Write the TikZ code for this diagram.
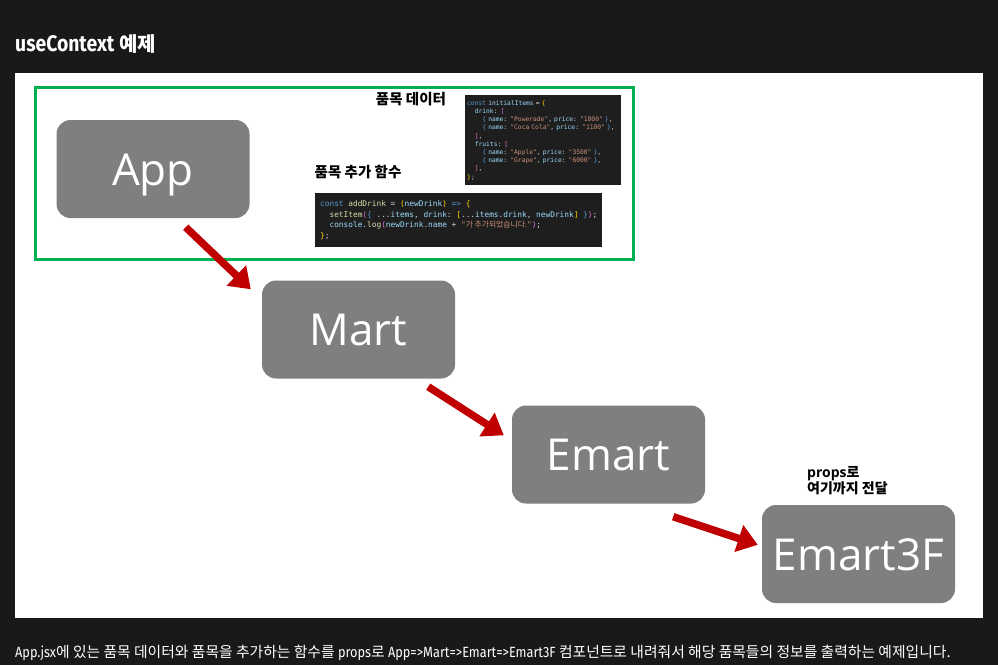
\documentclass[tikz,border=0pt]{standalone}
\usepackage{fontspec}
\usetikzlibrary{arrows.meta,positioning,calc}
\setmainfont{Open Sans}
\setmonofont{DejaVu Sans Mono}
\newfontfamily\krfont{Noto Sans CJK KR}
\newfontfamily\titlefont{Fira Sans}[FakeStretch=0.86]

\definecolor{pagebg}{HTML}{18191B}
\definecolor{boxgray}{HTML}{7F7F7F}
\definecolor{framegreen}{HTML}{00B050}
\definecolor{arrowred}{HTML}{C00000}
\definecolor{codebg}{HTML}{1E1E1E}
\definecolor{kwblue}{HTML}{569CD6}
\definecolor{varblue}{HTML}{9CDCFE}
\definecolor{strorange}{HTML}{CE9178}
\definecolor{brkyellow}{HTML}{FFD700}
\definecolor{brkpink}{HTML}{DA70D6}
\definecolor{fnyellow}{HTML}{DCDCAA}
\definecolor{codetext}{HTML}{D4D4D4}

% code colouring
\newcommand{\cKw}[1]{\textcolor{kwblue}{#1}}
\newcommand{\cVar}[1]{\textcolor{varblue}{#1}}
\newcommand{\cStr}[1]{\textcolor{strorange}{#1}}
\newcommand{\cFn}[1]{\textcolor{fnyellow}{#1}}
\newcommand{\cBr}[1]{\textcolor{brkyellow}{#1}}
\newcommand{\cBrB}[1]{\textcolor{brkpink}{#1}}
\newcommand{\cBrC}[1]{\textcolor{kwblue}{#1}}
\newcommand{\ind}{\phantom{xx}}

\tikzset{
  compbox/.style={rectangle, rounded corners=14pt, fill=boxgray, text=white,
    minimum width=193pt, minimum height=98pt, text height=32pt, text depth=0pt,
    font=\fontsize{44}{50}\selectfont},
  passarrow/.style={draw=arrowred, line width=7.5pt,
    -{Triangle[length=20pt,width=27pt]}},
  codebox/.style={rectangle, fill=codebg, text=codetext, align=left, anchor=north west},
  kolabel/.style={font=\krfont\bfseries\fontsize{14.5}{17}\selectfont, text=black}
}

\begin{document}
\begin{tikzpicture}[x=1pt, y=-1pt]

  % page and white panel
  \fill[pagebg] (0,0) rectangle (998,665);
  \useasboundingbox (0,0) rectangle (998,665);
  \fill[white] (15,73) rectangle (983,618);

  % title
  \node[anchor=base west, text=white, inner sep=0pt,
    font=\titlefont\bfseries\fontsize{22.5}{27}\selectfont] (title) at (15,51)
    {useContext {\krfont\fontsize{20}{24}\selectfont 예제}};

  % context area
  \draw[framegreen, line width=3pt] (35,87) rectangle (633,259);

  % components
  \node[compbox] (App) at (153,169) {App};
  \node[compbox] (Mart) at (358.5,329.5) {Mart};
  \node[compbox] (Emart) at (608.5,454.5) {Emart};
  \node[compbox] (Emart3F) at (858.5,554) {Emart3F};

  % code snippets
  \node[codebox, minimum width=156pt, minimum height=90pt, text width=152pt,
    inner xsep=2pt, inner ysep=2pt, font=\ttfamily\fontsize{6.3}{8.2}\selectfont]
    (dataCode) at (465,95) {%
    \cKw{const} \cVar{initialItems} = \cBr{\{}\\
    \ind\cVar{drink}: \cBrB{[}\\
    \ind\ind\cBrC{\{} \cVar{name}: \cStr{"Powerade"}, \cVar{price}: \cStr{"1800"} \cBrC{\}},\\
    \ind\ind\cBrC{\{} \cVar{name}: \cStr{"Coca Cola"}, \cVar{price}: \cStr{"1100"} \cBrC{\}},\\
    \ind\cBrB{]},\\
    \ind\cVar{fruits}: \cBrB{[}\\
    \ind\ind\cBrC{\{} \cVar{name}: \cStr{"Apple"}, \cVar{price}: \cStr{"3500"} \cBrC{\}},\\
    \ind\ind\cBrC{\{} \cVar{name}: \cStr{"Grape"}, \cVar{price}: \cStr{"6000"} \cBrC{\}},\\
    \ind\cBrB{]},\\
    \cBr{\}};};
  \node[codebox, minimum width=261pt, minimum height=54pt,
    inner xsep=5pt, inner ysep=4pt, font=\ttfamily\fontsize{7.8}{10.5}\selectfont]
    (funcCode) at (315,193) {%
    \cKw{const} \cFn{addDrink} = \cBr{(}\cVar{newDrink}\cBr{)} \cKw{=>} \cBr{\{}\\
    \ind\cFn{setItem}\cBrB{(}\cBrC{\{} ...\cVar{items}, \cVar{drink}: \cBr{[}...\cVar{items}.\cVar{drink}, \cVar{newDrink}\cBr{]} \cBrC{\}}\cBrB{)};\\
    \ind\cVar{console}.\cFn{log}\cBrB{(}\cVar{newDrink}.\cVar{name} + \cStr{"{\krfont 가 추가되었습니다.}"}\cBrB{)};\\
    \cBr{\}};};

  % labels
  \node[kolabel] (dataLabel) at (411,99) {품목 데이터};
  \node[kolabel] (funcLabel) at (358,172) {품목 추가 함수};
  \node[kolabel, anchor=north west, align=left, inner sep=0pt,
    font=\krfont\bfseries\fontsize{14}{16}\selectfont] (propsLabel) at (807,466)
    {{\fontspec{Open Sans}\bfseries props}로\\여기까지 전달};

  % props passing
  \draw[passarrow] ($(App.south east)+(-64,9)$) -- ($(Mart.north west)+(-11,9)$);
  \draw[passarrow] ($(Mart.south east)+(-27,8)$) -- ($(Emart.north west)+(-8,30)$);
  \draw[passarrow] ($(Emart.south east)+(-32,13)$) -- ($(Emart3F.north west)+(-4,40)$);

  % caption
  \node[anchor=base west, text=white, inner sep=0pt,
    font=\titlefont\fontsize{14.8}{17}\selectfont] (caption) at (15,657)
    {App.jsx{\krfont 에 있는 품목 데이터와 품목을 추가하는 함수를} props{\krfont 로} App=>Mart=>Emart=>Emart3F {\krfont 컴포넌트로 내려줘서 해당 품목들의 정보를 출력하는 예제입니다.}};

\end{tikzpicture}
\end{document}
